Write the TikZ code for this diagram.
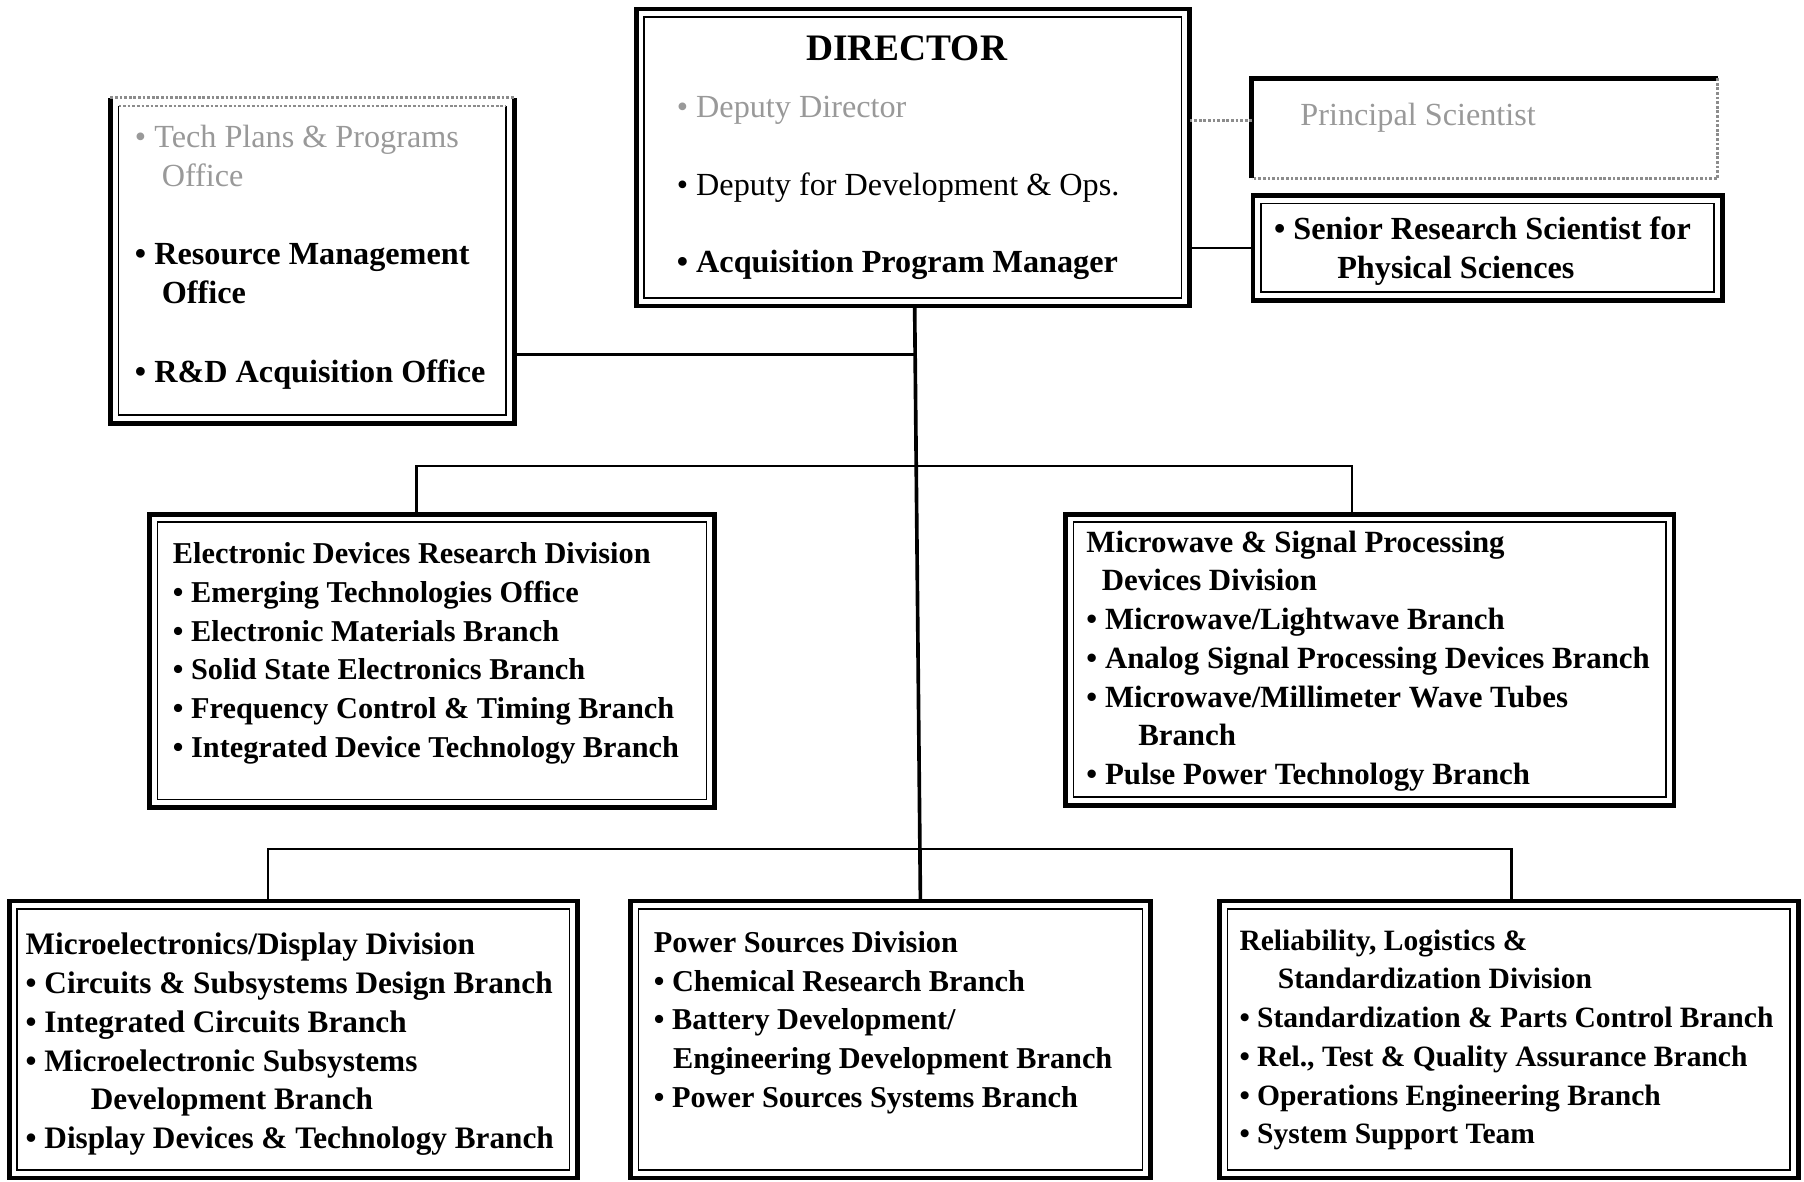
\documentclass[tikz,border=0pt]{standalone}
\usepackage{fontspec}
\setmainfont{Liberation Serif}
\usetikzlibrary{fit}
\newcommand\mybul{\textbullet\ }
\begin{document}
\begin{tikzpicture}[x=0.6pt,y=-0.6pt,
  outerline/.style={line width=2.4pt},
  innerline/.style={line width=0.9pt},
  fadedline/.style={line width=1.4pt, black!45, densely dotted},
  boxd/.style={inner sep=0pt, outer sep=0pt, draw, outerline},
  boxopen/.style={inner sep=0pt, outer sep=0pt},
  conn/.style={line width=1.4pt},
  trunkline/.style={line width=1.9pt},
  divtext/.style={anchor=north west, inner sep=0pt, align=left, font=\fontsize{15.8}{20.2}\selectfont\bfseries},
  toptext/.style={anchor=north west, inner sep=0pt, align=left, font=\fontsize{16.8}{20.4}\selectfont\bfseries}]
\useasboundingbox (0,0) rectangle (1568,1027);
\fill[white] (0,0) rectangle (1568,1027);

% ---- boxes ----
\node[boxd, fit={(553,8) (1034,266)}] (dir) {};
\node[boxopen, fit={(96,85) (447,368)}] (left) {};
\node[boxopen, fit={(1088,68) (1493,155)}] (prin) {};
\node[boxd, fit={(1089,170) (1497,261)}] (sen) {};
\node[boxd, fit={(130,447) (621,702)}] (edr) {};
\node[boxd, fit={(926,447) (1455,700)}] (msp) {};
\node[boxd, fit={(8,783) (502,1024)}] (md) {};
\node[boxd, fit={(548,783) (1000,1024)}] (ps) {};
\node[boxd, fit={(1060,783) (1563,1024)}] (rls) {};

% inner borders
\foreach \n in {dir,sen,edr,msp,md,ps,rls}
  \draw[innerline] ([shift={(7,7)}]\n.north west) rectangle ([shift={(-7,-7)}]\n.south east);

% left box: faded top edge
\draw[outerline] (left.north west) -- (left.south west) -- (left.south east) -- (left.north east);
\draw[fadedline] (left.north west) -- (left.north east);
\draw[innerline] ([shift={(7,7)}]left.north west) -- ([shift={(7,-7)}]left.south west) -- ([shift={(-7,-7)}]left.south east) -- ([shift={(-7,7)}]left.north east);
\draw[fadedline, line width=0.8pt] ([shift={(7,7)}]left.north west) -- ([shift={(-7,7)}]left.north east);

% principal scientist box (faded)
\draw[outerline] (prin.south west) -- (prin.north west) -- (prin.north east);
\draw[fadedline] (prin.north east) -- (prin.south east) -- (prin.south west);

% ---- texts ----
\node[font=\fontsize{19.5}{22}\selectfont\bfseries, inner sep=0pt] (dirT) at (788,42) {DIRECTOR};
\node[toptext] (dirItems) at (588,78) {\strut\textcolor{black!40}{\mdseries\mybul Deputy Director}\\[20.1pt]{\mdseries\mybul Deputy for Development \& Ops.}\\[20.1pt]\mybul Acquisition Program Manager};

\node[toptext] (leftT) at (117,104) {\strut\textcolor{black!40}{\mdseries\mybul Tech Plans \& Programs}\\\textcolor{black!40}{\mdseries\hspace*{14pt}Office}\\[20.4pt]\mybul Resource Management\\\hspace*{14pt}Office\\[20.4pt]\mybul R\&D Acquisition Office};

\node[toptext, anchor=mid west] (prinT) at (1130,105) {\textcolor{black!40}{\mdseries Principal Scientist}};

\node[toptext] (senT) at (1107,184) {\strut\mybul Senior Research Scientist for\\\hspace*{33pt}Physical Sciences};

\node[divtext] (edrT) at (150,466) {\strut Electronic Devices Research Division\\\mybul Emerging Technologies Office\\\mybul Electronic Materials Branch\\\mybul Solid State Electronics Branch\\\mybul Frequency Control \& Timing Branch\\\mybul Integrated Device Technology Branch};

\node[divtext, font=\fontsize{16.1}{20.2}\selectfont\bfseries] (mspT) at (944,456) {\strut Microwave \& Signal Processing\\\hspace*{8pt}Devices Division\\\mybul Microwave/Lightwave Branch\\\mybul Analog Signal Processing Devices Branch\\\mybul Microwave/Millimeter Wave Tubes\\\hspace*{27pt}Branch\\\mybul Pulse Power Technology Branch};

\node[divtext, font=\fontsize{16.3}{20.2}\selectfont\bfseries] (mdT) at (22,806) {\strut Microelectronics/Display Division\\\mybul Circuits \& Subsystems Design Branch\\\mybul Integrated Circuits Branch\\\mybul Microelectronic Subsystems\\\hspace*{34pt}Development Branch\\\mybul Display Devices \& Technology Branch};

\node[divtext] (psT) at (568,804) {\strut Power Sources Division\\\mybul Chemical Research Branch\\\mybul Battery Development/\\\hspace*{10pt}Engineering Development Branch\\\mybul Power Sources Systems Branch};

\node[divtext, font=\fontsize{15.4}{20.2}\selectfont\bfseries] (rlsT) at (1077,802) {\strut Reliability, Logistics \&\\\hspace*{20pt}Standardization Division\\\mybul Standardization \& Parts Control Branch\\\mybul Rel., Test \& Quality Assurance Branch\\\mybul Operations Engineering Branch\\\mybul System Support Team};

% ---- connectors ----
\coordinate (t0) at (795,266);
\coordinate (t1) at (800,783);
\coordinate (j1) at (795.4,308);
\coordinate (b1) at (362,405);
\coordinate (b2) at (1175,405);
\coordinate (c1) at (233,738);
\coordinate (c2) at (1314,738);
\coordinate (pc) at (1088,105);

\draw[trunkline] (t0) -- (t1);
\draw[conn] (left.east |- j1) -- (j1);
\draw[conn] (dir.east |- sen.west) -- (sen.west);
\draw[fadedline] (dir.east |- pc) -- (pc);
\draw[conn] (b1 |- edr.north) -- (b1) -- (b2) -- (b2 |- msp.north);
\draw[conn] (c1 |- md.north) -- (c1) -- (c2) -- (c2 |- rls.north);
\end{tikzpicture}
\end{document}
